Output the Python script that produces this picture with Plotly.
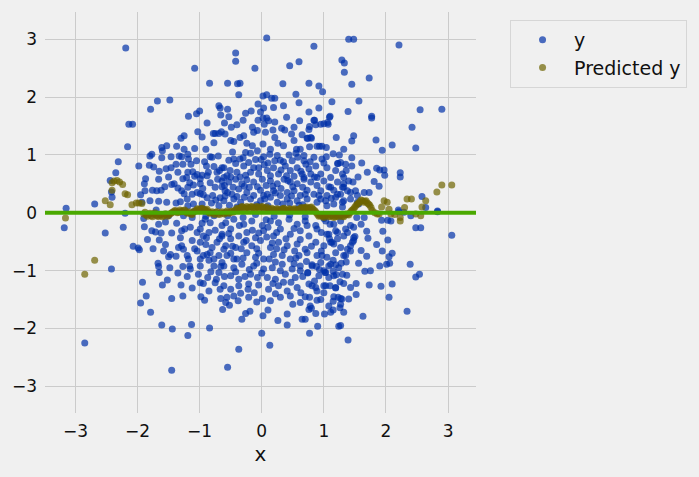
import plotly.graph_objects as go

# observed y, read region by region off the scatter (x, y)
y_upper_left = [
    (-2.19, 2.85), (-1.08, 2.50), (-0.84, 2.24), (-1.68, 1.93), (-1.48, 1.95), (-1.79, 1.79),
    (-1.18, 1.67), (-1.05, 1.71), (-1.00, 1.76), (-0.69, 1.85), (-0.66, 1.69), (-2.14, 1.53),
    (-2.08, 1.53), (-2.16, 1.14), (-1.03, 1.40), (-0.96, 1.31), (-1.30, 1.29), (-1.25, 1.33),
    (-0.78, 1.37), (-0.75, 1.37), (-0.69, 1.37), (-0.77, 1.21), (-1.37, 1.15), (-1.60, 1.07),
    (-1.61, 0.95), (-1.77, 1.01), (-1.08, 1.11), (-2.31, 0.88), (-1.98, 0.81), (-1.81, 0.82),
    (-1.74, 0.79), (-2.35, 0.69), (-2.44, 0.56), (-2.42, 0.36), (-2.41, 0.27), (-1.33, 0.98),
    (-1.29, 0.97), (-1.19, 1.01), (-1.18, 0.93), (-1.38, 0.84), (-1.27, 0.84), (-1.14, 0.84),
    (-1.54, 0.76), (-1.46, 0.78), (-1.87, 0.59), (-1.89, 0.50), (-1.95, 0.31), (-1.66, 0.20),
    (-1.76, 0.39), (-1.69, 0.38), (-1.62, 0.39), (-1.56, 0.45), (-1.45, 0.49), (-1.41, 0.50),
    (-1.35, 0.43), (-1.29, 0.38), (-1.25, 0.33), (-1.27, 0.59), (-1.21, 0.61), (-1.19, 0.70),
    (-1.11, 0.71), (-1.08, 0.63), (-1.04, 0.66), (-0.99, 0.59), (-0.96, 0.65), (-0.89, 0.81),
    (-0.83, 0.97), (-0.80, 0.96), (-0.77, 0.80), (-0.72, 0.70), (-0.68, 0.73), (-0.64, 0.78),
    (-0.61, 0.61), (-0.64, 0.45), (-0.60, 0.47), (-0.75, 0.44), (-0.83, 0.52), (-0.88, 0.64),
    (-0.99, 0.50), (-1.04, 0.35), (-0.99, 0.33), (-0.94, 0.31), (-0.88, 0.26), (-0.79, 0.30),
    (-0.67, 0.26), (-0.59, 0.29), (-1.16, 0.52), (-1.19, 0.44), (-1.12, 0.32), (-1.20, 0.24),
    (-1.31, 0.19), (-1.38, 0.17), (-1.19, 0.12), (-1.10, 0.15), (-0.96, 0.15), (-0.81, 0.17),
    (-0.69, 0.12), (-2.69, 0.15), (-3.15, 0.08), (-3.18, -0.26), (-1.80, 0.98), (-1.61, 1.13),
    (-1.53, 1.16), (-1.46, 0.97), (-1.66, 0.58), (-1.53, 0.18), (-1.88, 0.38), (-1.80, 0.21),
    (-1.93, 0.18),
]

y_upper_mid = [
    (0.08, 3.02), (0.84, 2.88), (-0.42, 2.76), (-0.42, 2.62), (-0.11, 2.50), (0.45, 2.54),
    (0.60, 2.61), (1.29, 2.64), (1.33, 2.59), (1.33, 2.43), (-0.55, 2.24), (-0.39, 2.23),
    (-0.35, 2.24), (-0.37, 2.04), (0.34, 2.23), (0.76, 2.24), (0.92, 2.19), (0.98, 2.09),
    (0.55, 2.05), (0.60, 1.90), (1.13, 1.92), (0.02, 2.02), (0.08, 2.04), (0.16, 1.98),
    (0.21, 1.98), (0.03, 1.81), (0.19, 1.82), (0.35, 1.85), (-0.06, 1.88), (-0.26, 1.72),
    (-0.17, 1.76), (-0.02, 1.74), (0.02, 1.64), (0.08, 1.64), (0.11, 1.59), (0.21, 1.57),
    (-0.06, 1.60), (0.04, 1.53), (-0.67, 1.81), (-0.55, 1.79), (-0.53, 1.66), (0.76, 1.74),
    (0.92, 1.81), (0.61, 1.59), (0.77, 1.49), (0.84, 1.60), (0.95, 1.53), (1.00, 1.54),
    (1.09, 1.65), (1.07, 1.53), (0.76, 1.44), (-0.40, 1.52), (-0.49, 1.48), (-0.65, 1.40),
    (-0.59, 1.36), (-0.45, 1.23), (-0.50, 1.25), (-0.35, 1.30), (-0.29, 1.33), (-0.15, 1.48),
    (-0.13, 1.39), (-0.07, 1.42), (0.06, 1.39), (0.18, 1.43), (0.32, 1.46), (0.37, 1.43),
    (0.52, 1.48), (0.48, 1.36), (0.21, 1.30), (-0.24, 1.20), (-0.15, 1.16), (0.02, 1.19),
    (0.14, 1.10), (0.26, 1.20), (0.35, 1.16), (0.52, 1.25), (0.56, 1.10), (0.62, 1.10),
    (0.74, 1.29), (0.80, 1.29), (0.77, 1.14), (0.93, 1.15), (0.97, 1.15), (1.04, 1.13),
    (1.32, 1.10), (-0.53, 0.91), (-0.45, 0.93), (-0.35, 0.93), (-0.26, 1.04), (-0.18, 1.03),
    (-0.07, 1.07), (0.03, 0.97), (0.13, 1.01), (0.25, 0.99), (0.30, 0.91), (0.44, 1.00),
    (0.49, 0.90), (0.58, 0.96), (0.68, 0.99), (0.84, 0.96), (0.97, 0.93), (1.04, 0.97),
    (1.22, 0.85), (1.35, 0.84),
    (-0.61, 0.78), (-0.51, 0.73), (-0.40, 0.70), (-0.29, 0.81), (-0.21, 0.87), (-0.13, 0.78),
    (-0.05, 0.67), (0.09, 0.73), (0.19, 0.78), (0.27, 0.67), (0.38, 0.81), (0.46, 0.73),
    (0.57, 0.78), (0.65, 0.67), (0.76, 0.76), (0.87, 0.81), (0.95, 0.67), (1.05, 0.78),
    (1.19, 0.73), (1.30, 0.67),
    (-0.64, 0.55), (-0.53, 0.53), (-0.42, 0.58), (-0.32, 0.50), (-0.24, 0.57), (-0.13, 0.53),
    (0.01, 0.58), (0.14, 0.55), (0.25, 0.50), (0.36, 0.58), (0.46, 0.53), (0.57, 0.50),
    (0.68, 0.58), (0.79, 0.53), (0.89, 0.47), (1.00, 0.55), (1.11, 0.61), (1.22, 0.53),
    (1.32, 0.50),
    (-0.59, 0.38), (-0.48, 0.32), (-0.37, 0.41), (-0.24, 0.35), (-0.13, 0.30), (-0.02, 0.39),
    (0.09, 0.32), (0.19, 0.38), (0.30, 0.30), (0.41, 0.35), (0.52, 0.38), (0.62, 0.30),
    (0.73, 0.39), (0.84, 0.32), (0.95, 0.38), (1.05, 0.30), (1.16, 0.39), (1.27, 0.32),
    (-0.61, 0.21), (-0.45, 0.24), (-0.34, 0.18), (-0.18, 0.24), (-0.02, 0.21), (0.14, 0.27),
    (0.25, 0.18), (0.41, 0.24), (0.57, 0.21), (0.73, 0.24), (0.89, 0.18), (1.03, 0.21),
    (1.19, 0.27), (1.30, 0.18),
    (-0.56, 0.64), (-0.35, 0.62), (-0.18, 0.70), (0.04, 0.83), (0.14, 0.64), (0.31, 0.74),
    (0.52, 0.63), (0.71, 0.84), (-0.46, 0.44), (-0.28, 0.46), (-0.07, 0.45), (0.07, 0.47),
    (0.31, 0.42), (0.50, 0.45), (0.66, 0.44), (-0.52, 0.13), (-0.28, 0.27), (-0.08, 0.14),
    (0.05, 0.24), (0.34, 0.15), (0.48, 0.29), (0.66, 0.14), (-0.42, 0.85), (0.21, 0.90),
    (0.40, 0.64), (-0.01, 0.92),
]

y_upper_right = [
    (1.40, 3.00), (1.48, 3.00), (2.21, 2.90), (1.45, 2.22), (1.73, 2.33), (1.565, 1.93),
    (1.39, 1.75), (1.77, 1.67), (1.77, 1.64), (2.55, 1.78), (2.90, 1.79), (2.42, 1.48),
    (1.48, 1.33), (1.45, 1.24), (1.84, 1.26), (1.94, 1.08), (2.10, 1.17), (2.48, 1.12),
    (1.27, 0.87), (1.45, 0.81), (1.61, 0.86), (1.36, 0.73), (1.32, 0.61), (1.40, 0.55),
    (1.47, 0.53), (1.85, 0.77), (1.90, 0.74), (1.97, 0.74), (1.98, 0.65), (2.23, 0.69),
    (2.23, 0.62), (1.81, 0.54), (1.89, 0.46), (1.73, 0.35), (1.30, 0.44), (1.38, 0.38),
    (1.51, 0.38), (1.54, 0.30), (1.43, 0.24), (1.32, 0.21), (1.56, 0.15), (2.58, 0.28),
    (2.64, 0.09), (2.83, 0.03), (1.23, 0.85), (0.89, 1.15), (0.73, 1.29), (0.79, 1.30),
    (0.87, 1.52), (1.06, 1.56), (1.10, 1.67), (0.85, 1.60), (1.11, 0.44), (1.22, 0.32),
    (1.32, 0.44), (1.43, 0.35), (1.65, 0.35), (1.54, 0.18), (1.16, 0.15), (1.05, 0.12),
    (0.95, 0.24), (0.68, 0.61), (0.79, 0.67), (0.89, 0.61), (0.68, 0.90),
]

y_lower_left = [
    (-2.20, -0.01), (-2.52, -0.35), (-2.23, -0.25), (-2.42, -0.97), (-2.07, -0.58), (-1.99, -0.61),
    (-1.97, -0.64), (-1.92, -1.20), (-1.86, -1.44), (-1.95, -1.56), (-1.79, -1.72), (-1.61, -1.94),
    (-1.44, -2.01), (-1.13, -1.93), (-1.19, -2.12), (-0.84, -1.99), (-1.45, -2.72), (-2.85, -2.25),
    (-1.45, -1.48), (-1.27, -1.44), (-1.52, -1.16), (-1.35, -1.04), (-1.66, -0.93), (-1.65, -1.03),
    (-1.58, -0.66), (-1.50, -0.76), (-1.47, -0.72), (-1.84, -0.46), (-1.65, -0.47), (-1.62, -0.35),
    (-1.77, -0.31), (-1.89, -0.24), (-1.71, -0.33), (-1.55, -0.16), (-1.66, -0.20),
    (-1.37, -0.18), (-1.29, -0.31), (-1.24, -0.28), (-1.15, -0.25), (-1.31, -0.43), (-1.34, -0.60),
    (-1.29, -0.57), (-1.26, -0.63), (-1.18, -0.80), (-1.16, -0.92), (-1.15, -0.97), (-1.27, -0.93),
    (-1.20, -0.74), (-1.12, -0.48), (-1.04, -0.34), (-0.99, -0.28), (-0.94, -0.40), (-0.99, -0.51),
    (-0.89, -0.43), (-0.85, -0.34), (-1.04, -0.66), (-0.99, -0.80), (-0.94, -0.74), (-0.88, -0.72),
    (-0.99, -0.92), (-1.02, -1.06), (-0.99, -1.21), (-0.94, -1.22), (-0.87, -1.12), (-0.75, -1.21),
    (-0.73, -1.15), (-0.67, -1.32), (-0.66, -1.48), (-0.63, -1.67), (-0.98, -1.45), (-0.92, -1.51),
    (-0.77, -0.80), (-0.69, -0.74), (-0.64, -0.86), (-0.77, -0.92), (-0.69, -1.03), (-0.80, -0.60),
    (-0.72, -0.51), (-0.64, -0.40), (-0.83, -0.17), (-0.91, -0.11), (-1.12, -0.08), (-1.26, -0.05),
    (-0.77, -0.05), (-0.64, -0.22), (-0.61, -0.63), (-0.83, -0.69), (-1.67, -0.87),
]

y_lower_mid = [
    (-0.55, -2.67), (-0.37, -2.36), (0.00, -2.08), (0.13, -2.29), (0.77, -2.08), (0.41, -1.94),
    (0.26, -1.86), (0.65, -1.84), (0.90, -1.96), (1.24, -1.96), (-0.32, -1.84), (-0.26, -1.74),
    (-0.19, -1.70), (0.02, -1.78), (0.10, -1.68), (0.41, -1.75), (0.76, -1.67), (0.87, -1.74),
    (1.01, -1.75), (1.11, -1.72), (1.27, -1.58), (-0.52, -1.60),
    (-0.56, -1.46), (-0.45, -1.44), (-0.34, -1.39), (-0.21, -1.46), (-0.08, -1.54), (0.01, -1.48),
    (0.14, -1.52), (0.30, -1.46), (0.46, -1.44), (0.62, -1.55), (0.78, -1.61), (0.95, -1.50),
    (1.16, -1.45), (1.27, -1.48),
    (-0.61, -1.26), (-0.50, -1.32), (-0.37, -1.26), (-0.21, -1.23), (-0.05, -1.25), (0.11, -1.32),
    (0.27, -1.26), (0.41, -1.35), (0.57, -1.29), (0.76, -1.23), (0.87, -1.29), (1.03, -1.26),
    (1.19, -1.29), (1.32, -1.22),
    (-0.50, -1.09), (-0.37, -1.15), (-0.18, -1.06), (-0.07, -1.12), (0.09, -1.12), (0.22, -1.15),
    (0.38, -1.06), (0.54, -1.12), (0.74, -1.03), (0.92, -1.09), (1.03, -1.03), (1.16, -1.09),
    (1.30, -1.06),
    (-0.61, -0.92), (-0.45, -0.95), (-0.32, -0.89), (-0.13, -0.92), (0.03, -0.97), (0.17, -0.95),
    (0.33, -0.89), (0.49, -0.97), (0.62, -0.92), (0.81, -0.92), (0.95, -0.86), (1.08, -0.92),
    (1.24, -0.95),
    (-0.56, -0.74), (-0.40, -0.80), (-0.24, -0.69), (-0.10, -0.77), (0.03, -0.80), (0.19, -0.72),
    (0.33, -0.74), (0.46, -0.80), (0.60, -0.74), (0.73, -0.69), (0.89, -0.74), (1.05, -0.77),
    (1.19, -0.69), (1.32, -0.74),
    (-0.58, -0.57), (-0.42, -0.60), (-0.29, -0.51), (-0.16, -0.57), (-0.02, -0.48), (0.14, -0.60),
    (0.27, -0.51), (0.41, -0.57), (0.57, -0.54), (0.70, -0.63), (0.87, -0.51), (1.00, -0.57),
    (1.13, -0.51), (1.27, -0.60),
    (-0.64, -0.37), (-0.50, -0.28), (-0.37, -0.40), (-0.24, -0.34), (-0.10, -0.43), (0.03, -0.31),
    (0.19, -0.40), (0.30, -0.28), (0.46, -0.37), (0.62, -0.31), (0.76, -0.40), (0.89, -0.28),
    (1.05, -0.37), (1.19, -0.31), (1.32, -0.40),
    (-0.58, -0.17), (-0.45, -0.11), (-0.29, -0.20), (-0.16, -0.14), (0.01, -0.22), (0.14, -0.14),
    (0.27, -0.17), (0.44, -0.11), (0.57, -0.20), (0.70, -0.14), (0.87, -0.22), (1.03, -0.14),
    (1.16, -0.20), (1.27, -0.14),
    (-0.50, -0.45), (-0.33, -0.62), (-0.08, -0.62), (0.08, -0.42), (0.22, -0.85), (0.39, -0.45),
    (0.53, -0.66), (-0.45, -0.80), (-0.20, -0.98), (0.10, -0.25), (0.35, -1.20), (-0.27, -1.10),
    (0.66, -1.10), (-0.05, -0.35), (0.24, -0.62), (0.52, -0.88), (-0.55, -0.05), (-0.30, -0.08),
    (-0.10, -0.03), (0.20, -0.06), (0.45, -0.04), (0.70, -0.07), (1.00, -0.10), (1.20, -0.03),
    (-0.90, -0.06), (-1.10, 0.02), (-1.50, -0.05), (-1.70, 0.05), (-0.40, 0.10), (0.10, 0.12),
    (0.60, 0.13), (1.30, 0.10), (-1.90, -0.10), (2.40, -0.05), (2.20, 0.05),
]

y_lower_right = [
    (2.83, 0.02), (3.06, -0.39), (2.48, -0.26), (2.56, -0.26), (2.39, -0.89), (2.48, -1.11),
    (2.54, -1.06), (2.34, -1.70), (2.05, -1.46), (2.10, -1.23), (1.92, -1.27), (1.73, -1.25),
    (1.63, -1.79), (1.39, -2.20), (1.52, -1.41), (1.52, -1.22), (1.43, -1.29), (1.40, -1.49),
    (1.32, -1.72), (1.27, -1.95), (1.37, -1.08), (1.66, -1.01), (1.56, -0.87), (1.36, -0.85),
    (1.69, -0.75), (1.90, -0.92), (2.01, -0.89), (2.06, -0.87), (2.05, -0.76), (2.10, -0.70),
    (1.94, -0.66), (2.03, -0.47), (1.71, -0.44), (1.69, -0.32), (1.95, -0.32), (1.93, -0.13),
    (2.03, -0.13), (2.08, -0.14), (1.53, -0.08), (1.65, -0.08), (1.43, -0.22), (1.48, -0.25),
    (1.35, -0.28), (1.38, -0.34), (1.48, -0.43), (1.46, -0.51), (1.43, -0.57), (1.38, -0.63),
    (1.35, -0.74), (2.21, 0.02), (2.29, 0.01), (1.00, -1.00), (1.00, -1.26), (1.10, -1.26),
    (1.15, -1.68), (1.26, -1.64), (1.29, -1.49), (1.23, -1.46), (1.15, -1.53), (1.08, -1.61),
    (0.89, -1.51), (0.77, -1.46), (0.80, -1.65), (0.70, -1.84), (1.19, -1.30), (1.26, -1.19),
    (1.20, -1.07), (1.15, -1.01), (1.19, -0.90), (1.11, -0.89), (1.02, -1.03), (0.88, -0.93),
    (0.81, -0.90), (0.74, -1.04), (0.62, -1.00), (0.81, -1.26), (0.89, -1.35), (0.97, -0.74),
    (1.11, -0.51), (1.16, -0.54), (1.09, -0.45), (1.08, -0.37), (1.22, -0.34), (1.43, -0.66),
    (1.48, -0.48), (1.50, -0.41),
]

# the crowded middle of the cloud, where points pile on each other
y_core = [
    (-0.92, 0.88), (-0.70, 0.98), (-0.47, 1.05), (-0.30, 0.95), (-0.10, 0.92), (0.10, 0.86),
    (0.35, 0.88), (0.55, 1.03), (0.78, 0.88), (1.00, 0.86), (1.15, 1.02),
    (-0.95, 0.42), (-0.86, 0.70), (-0.71, 0.58), (-0.50, 0.62), (-0.26, 0.65), (-0.05, 0.78),
    (0.18, 0.46), (0.42, 0.56), (0.63, 0.72), (0.85, 0.62), (1.08, 0.45),
    (-0.92, 0.05), (-0.74, 0.22), (-0.55, 0.35), (-0.40, 0.28), (-0.20, 0.44), (0.03, 0.30),
    (0.22, 0.34), (0.45, 0.17), (0.70, 0.32), (0.92, 0.30), (1.12, 0.25),
    (-0.96, -0.18), (-0.75, -0.30), (-0.53, -0.36), (-0.36, -0.22), (-0.15, -0.30), (0.07, -0.12),
    (0.24, -0.34), (0.52, -0.27), (0.73, -0.22), (0.96, -0.34), (1.10, -0.20),
    (-0.90, -0.55), (-0.68, -0.45), (-0.47, -0.58), (-0.25, -0.48), (-0.05, -0.70), (0.17, -0.52),
    (0.36, -0.64), (0.62, -0.46), (0.80, -0.58), (0.96, -0.66), (1.22, -0.45),
    (-0.85, -0.82), (-0.66, -0.93), (-0.50, -0.70), (-0.30, -0.78), (-0.08, -0.87), (0.12, -0.80),
    (0.30, -1.00), (0.55, -0.78), (0.72, -0.84), (0.93, -0.98), (1.15, -0.82),
    (-0.82, -1.02), (-0.60, -1.10), (-0.42, -1.02), (-0.22, -1.32), (0.00, -1.04), (0.18, -1.22),
    (0.47, -1.20), (0.63, -1.38), (0.85, -1.18), (1.08, -1.12),
    (-0.85, -1.35), (-0.58, -1.55), (-0.38, -1.52), (-0.12, -1.38), (0.22, -1.40), (0.50, -1.58),
    (0.70, -1.45), (1.00, -1.38),
    (-1.45, -0.35), (-1.38, -0.75), (-1.48, -0.95), (-1.20, -1.10), (-1.30, -1.25), (-1.55, -0.55),
    (-1.75, -0.62), (-1.60, -1.25), (-1.12, -1.30), (-1.08, -0.62),
    (-1.50, 0.62), (-1.35, 0.70), (-1.10, 0.48), (-1.05, 0.90), (-1.25, 1.10), (-0.90, 1.10),
    (-1.65, 0.72), (-0.88, 1.55), (-0.60, 1.55), (-0.30, 1.60),
    (0.40, 1.65), (0.65, 1.35), (1.20, 1.30), (1.25, 1.00), (1.45, 0.95), (1.55, 0.62),
    (1.70, 0.70), (1.60, -0.20), (1.60, -0.65), (1.75, -1.00), (1.85, -0.55), (1.28, -0.87),
]

# model output ("Predicted y") along x
pred_x = [
    -3.16, -2.85, -2.69, -2.52, -2.44, -2.41, -2.41, -2.38, -2.33, -2.29, -2.24, -2.20, -2.16,
    -2.09, -2.02, -1.98, -1.93,
    -1.90, -1.86, -1.82, -1.78, -1.74, -1.70, -1.66, -1.62, -1.58, -1.54, -1.50, -1.46, -1.42,
    -1.38, -1.34, -1.30, -1.26, -1.22, -1.18, -1.14, -1.10, -1.06, -1.02, -0.98, -0.94, -0.90,
    -0.86, -0.82, -0.78, -0.74, -0.70, -0.66, -0.62, -0.58, -0.54, -0.50, -0.46, -0.42, -0.38,
    -0.34, -0.30, -0.26, -0.22, -0.18, -0.14, -0.10, -0.06, -0.02, 0.02, 0.06, 0.10, 0.14,
    0.18, 0.22, 0.26, 0.30, 0.34, 0.38, 0.42, 0.46, 0.50, 0.54, 0.58, 0.62, 0.66, 0.70,
    0.74, 0.78, 0.82, 0.86, 0.90, 0.94, 0.98, 1.02, 1.06, 1.10, 1.14, 1.18, 1.22, 1.26,
    1.30, 1.34, 1.38, 1.42, 1.46, 1.50, 1.54, 1.58, 1.62, 1.66, 1.70, 1.74, 1.78, 1.82,
    1.86, 1.89, 1.93, 1.97, 2.02, 2.05, 2.08, 2.14, 2.23, 2.23, 2.30, 2.34, 2.41, 2.48,
    2.56, 2.58, 2.64, 2.82, 2.90, 3.06,
]
pred_y = [
    -0.09, -1.06, -0.82, 0.21, 0.14, 0.39, 0.52, 0.55, 0.56, 0.53, 0.49, 0.33, 0.31,
    0.14, 0.17, 0.17, 0.16,
    -0.02, -0.04, -0.03, -0.05, -0.02, -0.04, -0.06, -0.03, -0.05, -0.02, -0.04, -0.01, 0.02,
    0.03, 0.01, 0.03, 0.04, 0.02, 0.00, -0.02, 0.01, 0.04, 0.06, 0.07, 0.06, 0.05,
    0.02, 0.00, -0.01, 0.01, -0.02, 0.00, -0.01, 0.01, 0.00, 0.02, 0.01, 0.05, 0.07,
    0.09, 0.10, 0.08, 0.09, 0.10, 0.09, 0.08, 0.10, 0.09, 0.10, 0.08, 0.07, 0.05,
    0.06, 0.04, 0.06, 0.05, 0.07, 0.05, 0.04, 0.06, 0.05, 0.06, 0.05, 0.07, 0.08, 0.09,
    0.08, 0.09, 0.07, 0.03, -0.03, -0.05, -0.06, -0.05, -0.04, -0.06, -0.05, -0.07, -0.05, -0.04,
    -0.06, -0.04, -0.03, 0.00, 0.05, 0.10, 0.15, 0.19, 0.21, 0.20, 0.17, 0.13, 0.04, 0.00,
    -0.02, -0.02, 0.10, 0.21, 0.18, 0.06, -0.02, -0.03, -0.08, -0.14, 0.09, 0.24, 0.24, -0.02,
    -0.05, 0.10, 0.21, 0.36, 0.48, 0.48,
]

# second pass through the same dense band (points between the ones above)
pred_x_mid = [
    -1.88, -1.84, -1.80, -1.76, -1.72, -1.68, -1.64, -1.60, -1.56, -1.52, -1.48, -1.44, -1.40,
    -1.36, -1.32, -1.28, -1.24, -1.20, -1.16, -1.12, -1.08, -1.04, -1.00, -0.96, -0.92, -0.88,
    -0.84, -0.80, -0.76, -0.72, -0.68, -0.64, -0.60, -0.56, -0.52, -0.48, -0.44, -0.40, -0.36,
    -0.32, -0.28, -0.24, -0.20, -0.16, -0.12, -0.08, -0.04, 0.00, 0.04, 0.08, 0.12, 0.16,
    0.20, 0.24, 0.28, 0.32, 0.36, 0.40, 0.44, 0.48, 0.52, 0.56, 0.60, 0.64, 0.68, 0.72,
    0.76, 0.80, 0.84, 0.88, 0.92, 0.96, 1.00, 1.04, 1.08, 1.12, 1.16, 1.20, 1.24, 1.28,
    1.32, 1.36, 1.40, 1.44, 1.48, 1.52, 1.56, 1.60, 1.64, 1.68, 1.72, 1.76,
]
pred_y_mid = [
    0.01, -0.06, -0.01, -0.07, 0.00, -0.06, -0.03, -0.07, -0.02, -0.06, -0.02, 0.01, 0.04,
    0.00, 0.05, 0.02, 0.05, -0.01, 0.02, -0.03, 0.03, 0.07, 0.04, 0.08, 0.04, 0.06,
    -0.01, 0.02, -0.03, 0.02, -0.03, 0.02, -0.02, 0.03, -0.01, 0.03, 0.03, 0.08, 0.06,
    0.11, 0.07, 0.11, 0.07, 0.11, 0.07, 0.11, 0.08, 0.11, 0.07, 0.10, 0.06, 0.08,
    0.05, 0.07, 0.04, 0.06, 0.08, 0.04, 0.07, 0.04, 0.07, 0.04, 0.06, 0.09, 0.07, 0.10,
    0.07, 0.10, 0.05, 0.00, -0.06, -0.03, -0.08, -0.03, -0.07, -0.04, -0.08, -0.04, -0.07, -0.03,
    -0.07, -0.02, -0.04, 0.03, 0.07, 0.13, 0.17, 0.22, 0.18, 0.21, 0.15, 0.09,
]

# fitted regression line (flat)
fit_intercept = 0.0

x_ticks = [-3, -2, -1, 0, 1, 2, 3]
y_ticks = [-3, -2, -1, 0, 1, 2, 3]

all_y = y_upper_left + y_upper_mid + y_upper_right + y_lower_left + y_lower_mid + y_lower_right + y_core
obs_x = [p[0] for p in all_y]
obs_y = [p[1] for p in all_y]

fig = go.Figure()
fig.add_trace(go.Scatter(x=obs_x, y=obs_y, mode="markers", name="y",
                         marker=dict(color="#0030a8", size=7, opacity=0.7, line=dict(width=0))))
fig.add_trace(go.Scatter(x=pred_x + pred_x_mid, y=pred_y + pred_y_mid, mode="markers", name="Predicted y",
                         marker=dict(color="#6e6400", size=7, opacity=0.7, line=dict(width=0))))
fig.add_hline(y=fit_intercept, line=dict(color="#4aa800", width=4))

axis_style = dict(showgrid=True, gridcolor="#cbcbcb", gridwidth=1.3, zeroline=False,
                  showline=False, ticks="", tickfont=dict(family="DejaVu Sans", size=17, color="#111111"))

fig.update_xaxes(range=[-3.49, 3.45], tickvals=x_ticks, ticklabelstandoff=6,
                 title=dict(text="x", font=dict(family="DejaVu Sans", size=20, color="#111111"), standoff=6),
                 **axis_style)
fig.update_yaxes(range=[-3.46, 3.47], tickvals=y_ticks, ticklabelstandoff=7, **axis_style)

fig.update_layout(
    width=699, height=477,
    margin=dict(l=45, r=223, t=12, b=64, autoexpand=False),
    paper_bgcolor="#f0f0f0", plot_bgcolor="#f0f0f0",
    showlegend=True,
    legend=dict(x=1.079, y=0.98, xanchor="left", yanchor="top", itemwidth=53,
                bgcolor="#f0f0f0", bordercolor="#d6d6d6", borderwidth=1,
                font=dict(family="DejaVu Sans", size=19, color="#111111")),
)

# drop the page margin so the figure sits flush in the window
fig.write_html("out.html", config={"displayModeBar": False},
               post_script="document.body.style.margin='0';document.body.style.background='#f0f0f0';")
